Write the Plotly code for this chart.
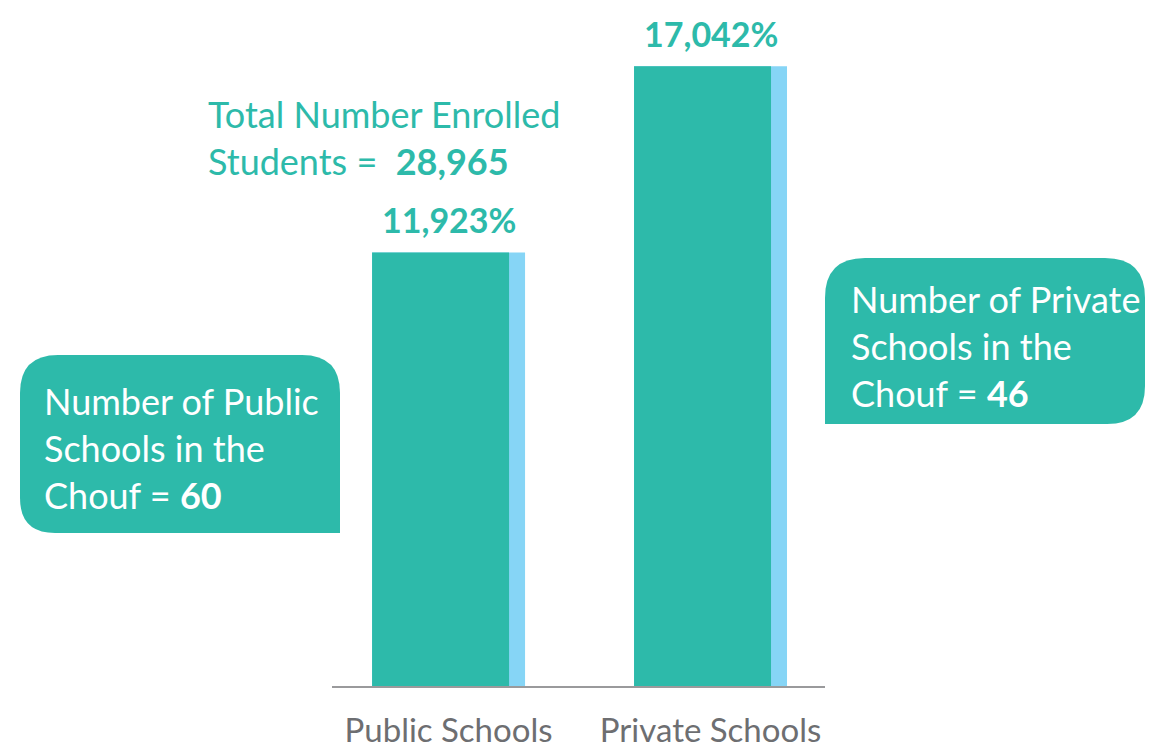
import plotly.graph_objects as go

# ---- data ----
categories = ["Public Schools", "Private Schools"]
enrolled = [11923, 17042]
school_counts = [60, 46]
total_enrolled = 28965
value_labels = [f"{v:,}%" for v in enrolled]

TEAL = "#2dbaaa"
BLUE = "#86d5f6"
GRAY = "#6d6e71"
FONT = "Lato, 'Open Sans', sans-serif"

W, H = 1158, 751


def px(x):
    return x / W


def py(y):
    return 1 - y / H


def rounded_path(x0, y0, x1, y1, rtl, rtr, rbr, rbl):
    pts = [f"M {px(x0 + rtl)},{py(y0)}", f"L {px(x1 - rtr)},{py(y0)}"]
    if rtr:
        pts.append(f"Q {px(x1)},{py(y0)} {px(x1)},{py(y0 + rtr)}")
    pts.append(f"L {px(x1)},{py(y1 - rbr)}")
    if rbr:
        pts.append(f"Q {px(x1)},{py(y1)} {px(x1 - rbr)},{py(y1)}")
    pts.append(f"L {px(x0 + rbl)},{py(y1)}")
    if rbl:
        pts.append(f"Q {px(x0)},{py(y1)} {px(x0)},{py(y1 - rbl)}")
    pts.append(f"L {px(x0)},{py(y0 + rtl)}")
    if rtl:
        pts.append(f"Q {px(x0)},{py(y0)} {px(x0 + rtl)},{py(y0)}")
    pts.append("Z")
    return " ".join(pts)


unit = 262.0
full_w = 153 / unit
teal_w = 137 / unit
off = -full_w / 2

fig = go.Figure()
fig.add_trace(go.Bar(
    x=categories, y=enrolled, width=[full_w] * 2, offset=off,
    marker=dict(color=BLUE, line=dict(width=0)),
    hoverinfo="skip",
))
fig.add_trace(go.Bar(
    x=categories, y=enrolled, width=[teal_w] * 2, offset=off,
    marker=dict(color=TEAL, line=dict(width=0)),
    hoverinfo="skip",
))

shapes = [
    dict(type="path", xref="paper", yref="paper",
         path=rounded_path(20, 355, 340, 533, 38, 38, 0, 35),
         fillcolor=TEAL, line=dict(width=0), layer="below"),
    dict(type="path", xref="paper", yref="paper",
         path=rounded_path(825, 258, 1145, 424, 40, 40, 38, 0),
         fillcolor=TEAL, line=dict(width=0), layer="below"),
]

annotations = [
    dict(x=px(206), y=py(137), xref="paper", yref="paper",
         xanchor="left", yanchor="middle", align="left", showarrow=False,
         text=f"Total Number Enrolled<br>Students =  <b>{total_enrolled:,}</b>",
         font=dict(family=FONT, size=36, color=TEAL)),
    dict(x=px(42), y=py(448), xref="paper", yref="paper",
         xanchor="left", yanchor="middle", align="left", showarrow=False,
         text=f"Number of Public<br>Schools in the<br>Chouf = <b>{school_counts[0]}</b>",
         font=dict(family=FONT, size=36, color="white")),
    dict(x=px(849), y=py(346), xref="paper", yref="paper",
         xanchor="left", yanchor="middle", align="left", showarrow=False,
         text=f"Number of Private<br>Schools in the<br>Chouf = <b>{school_counts[1]}</b>",
         font=dict(family=FONT, size=36, color="white")),
]
for cat, val, lab in zip(categories, enrolled, value_labels):
    annotations.append(dict(
        x=cat, y=val, xref="x", yref="y", xanchor="center", yanchor="bottom",
        yshift=10, showarrow=False, text=f"<b>{lab}</b>",
        font=dict(family=FONT, size=34, color=TEAL)))

fig.update_layout(
    width=W, height=H, autosize=False,
    margin=dict(l=0, r=0, t=0, b=0, autoexpand=False),
    paper_bgcolor="white", plot_bgcolor="white",
    barmode="overlay", showlegend=False,
    shapes=shapes, annotations=annotations,
    xaxis=dict(domain=[px(332), px(825)], range=[-0.445, 1.437],
               automargin=False,
               showline=True, linecolor="#9a9a9c", linewidth=2,
               ticks="", showgrid=False, zeroline=False,
               ticklabelstandoff=14,
               tickfont=dict(family=FONT, size=33, color=GRAY)),
    yaxis=dict(domain=[py(686), 1], range=[0, 686 * 27.5],
               automargin=False,
               visible=False, showgrid=False, zeroline=False),
)

fig.write_html(
    "out.html",
    config={"displayModeBar": False},
    post_script="document.body.style.margin='0px';document.documentElement.style.overflow='hidden';",
)
